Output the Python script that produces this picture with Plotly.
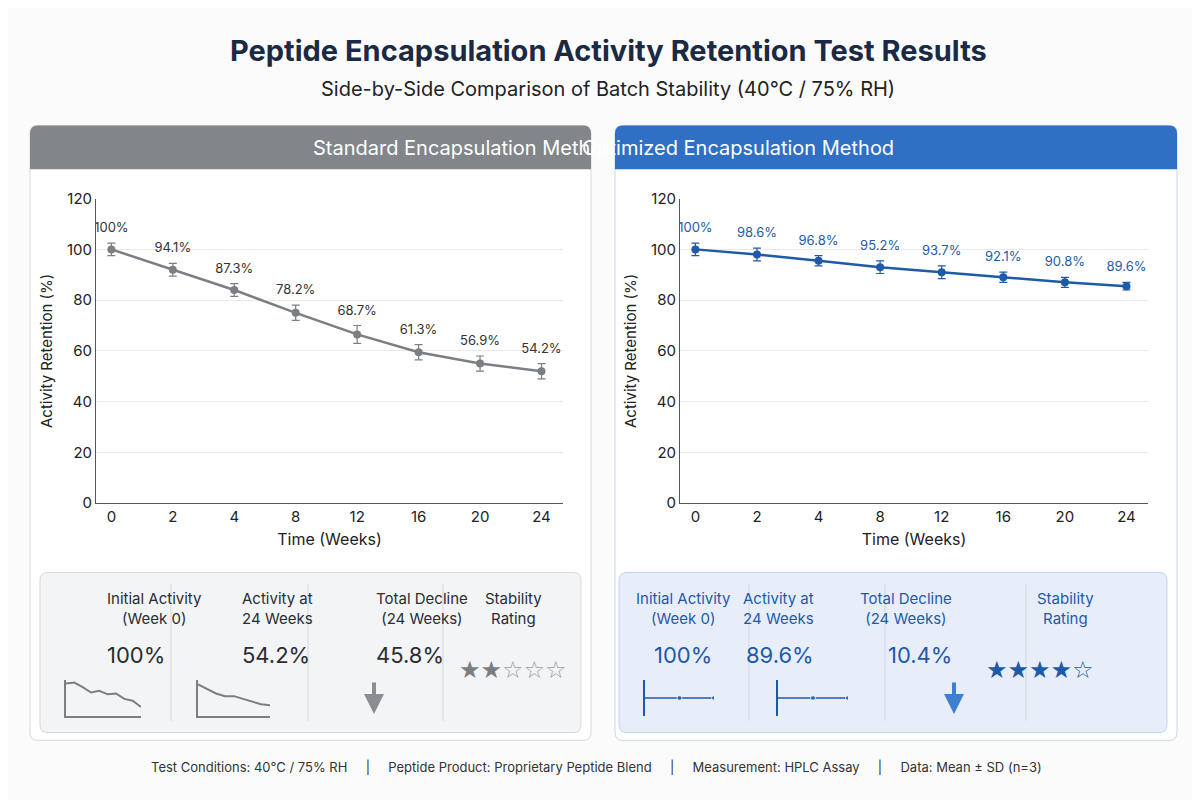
import plotly.graph_objects as go

weeks = ["0", "2", "4", "8", "12", "16", "20", "24"]
std_vals = [100, 92, 84, 75, 66.5, 59.5, 55, 52]
std_err = [2.5, 2.5, 2.5, 3, 3.5, 3, 3, 3]
std_labels = ["100%", "94.1%", "87.3%", "78.2%", "68.7%", "61.3%", "56.9%", "54.2%"]
opt_vals = [100, 98, 95.5, 93, 91, 89, 87, 85.5]
opt_err = [2.5, 2.5, 2, 2.5, 2.5, 2, 2, 1.5]
opt_labels = ["100%", "98.6%", "96.8%", "95.2%", "93.7%", "92.1%", "90.8%", "89.6%"]
spark_std1 = [96, 97, 92, 86, 88, 84, 85, 79, 77, 70]
spark_std2 = [95, 90, 85, 82, 82, 79, 76, 73, 72]
spark_opt = [50, 50, 50, 50, 50]
stat_titles = ["Initial Activity<br>(Week 0)", "Activity at<br>24 Weeks", "Total Decline<br>(24 Weeks)", "Stability<br>Rating"]
std_stats = ["100%", "54.2%", "45.8%"]
opt_stats = ["100%", "89.6%", "10.4%"]
std_stars = 2
opt_stars = 4

GRAY = "#7b7e83"
BLUE = "#1f5aa8"
W, H = 1200, 800
def px(x): return x / W
def py(y): return 1 - y / H

fig = go.Figure()

def rrect(x0, y0, x1, y1, r, top_only=False):
    X0, X1 = px(x0), px(x1)
    Y0, Y1 = py(y0), py(y1)
    rx, ry = r / W, r / H
    if top_only:
        return (f"M {X0} {Y1} L {X0} {Y0-ry} Q {X0} {Y0} {X0+rx} {Y0} L {X1-rx} {Y0} "
                f"Q {X1} {Y0} {X1} {Y0-ry} L {X1} {Y1} Z")
    return (f"M {X0+rx} {Y0} L {X1-rx} {Y0} Q {X1} {Y0} {X1} {Y0-ry} L {X1} {Y1+ry} "
            f"Q {X1} {Y1} {X1-rx} {Y1} L {X0+rx} {Y1} Q {X0} {Y1} {X0} {Y1+ry} "
            f"L {X0} {Y0-ry} Q {X0} {Y0} {X0+rx} {Y0} Z")

shapes = []
anns = []
panels = [
    dict(x0=22, x1=583, hdr="#828589", title="Standard Encapsulation Method", color=GRAY,
         cardbg="white", cardline="#d8d9db", boxbg="#f3f4f5", boxline="#d6d7d9",
         vals=std_vals, err=std_err, labels=std_labels, xa="x", ya="y", dom=(px(88), px(555)),
         stats=std_stats, stars=std_stars, centers=[97, 232, 366, 505], divs=[163, 300, 435],
         txtcolor="#2a2d33", box=(32, 573)),
    dict(x0=607, x1=1169, hdr="#2f6fc4", title="Optimized Encapsulation Method", color=BLUE,
         cardbg="white", cardline="#c9d7ec", boxbg="#e7eefa", boxline="#c3d3ec",
         vals=opt_vals, err=opt_err, labels=opt_labels, xa="x2", ya="y2", dom=(px(672), px(1140)),
         stats=opt_stats, stars=opt_stars, centers=[675, 808, 946, 1088], divs=[741, 877, 1018],
         txtcolor=BLUE, box=(611, 1159)),
]

for i, p in enumerate(panels):
    shapes.append(dict(type="path", path=rrect(p["x0"], 110, p["x1"], 740, 8), xref="paper", yref="paper",
                       fillcolor=p["cardbg"], line=dict(color=p["cardline"], width=1), layer="below"))
    shapes.append(dict(type="path", path=rrect(p["x0"], 110, p["x1"], 155, 8, top_only=True), xref="paper",
                       yref="paper", fillcolor=p["hdr"], line=dict(width=0), layer="below"))
    anns.append(dict(x=px((p["x0"] + p["x1"]) / 2), y=py(133), xref="paper", yref="paper", text=p["title"],
                     showarrow=False, font=dict(size=20, color="white", family="Inter"), yanchor="middle"))
    bx0, bx1 = p["box"]
    shapes.append(dict(type="path", path=rrect(bx0, 568, bx1, 732, 8), xref="paper", yref="paper",
                       fillcolor=p["boxbg"], line=dict(color=p["boxline"], width=1), layer="below"))
    for d in p["divs"]:
        shapes.append(dict(type="line", x0=px(d), x1=px(d), y0=py(580), y1=py(720), xref="paper", yref="paper",
                           line=dict(color="#d5d7da", width=1)))
    for j, c in enumerate(p["centers"]):
        anns.append(dict(x=px(c), y=py(605), xref="paper", yref="paper", text=stat_titles[j], showarrow=False,
                         font=dict(size=15, color=p["txtcolor"], family="Inter"), yanchor="middle"))
        if j < 3:
            anns.append(dict(x=px(c), y=py(653), xref="paper", yref="paper", text=p["stats"][j], showarrow=False,
                             font=dict(size=22, color=p["txtcolor"], family="Inter"), yanchor="middle"))
    c = p["centers"][3]
    filled = "★" * p["stars"]
    empty = "☆" * (5 - p["stars"])
    anns.append(dict(x=px(c), y=py(668), xref="paper", yref="paper",
                     text=f"<span style='color:{p['color']}'>{filled}</span><span style='color:{p['color'] if i else '#9a9da2'}'>{empty}</span>",
                     showarrow=False, font=dict(size=24, family="DejaVu Sans"), yanchor="middle"))
    c = p["centers"][2]
    anns.append(dict(x=px(c), y=py(713), ax=0, ay=-33, xref="paper", yref="paper", axref="pixel",
                     ayref="pixel", text="", showarrow=True, arrowhead=2, arrowsize=1, arrowwidth=4,
                     arrowcolor="#8a8d91" if i == 0 else "#3f7fd0"))

    fig.add_trace(go.Scatter(x=weeks, y=p["vals"], mode="lines+markers", xaxis=p["xa"], yaxis=p["ya"],
                             line=dict(color=p["color"], width=2.5), marker=dict(size=8, color=p["color"]),
                             error_y=dict(type="data", array=p["err"], color=p["color"], thickness=1.2, width=4),
                             showlegend=False, hoverinfo="skip"))
    fig.add_trace(go.Scatter(x=weeks, y=[v + e + 3 for v, e in zip(p["vals"], p["err"])], mode="text",
                             text=p["labels"], textposition="top center", xaxis=p["xa"], yaxis=p["ya"],
                             textfont=dict(size=13, color="#333" if i == 0 else BLUE, family="Inter"),
                             showlegend=False, hoverinfo="skip"))

ax = dict(showline=True, linecolor="#555", ticks="", tickfont=dict(size=15, color="#222", family="Inter"),
          title=dict(text="Time (Weeks)", font=dict(size=16, color="#222", family="Inter"), standoff=8),
          showgrid=False, type="category", range=[-0.25, 7.35], fixedrange=True)
ay = dict(range=[0, 120], dtick=20, showgrid=True, gridcolor="#e8e9eb", showline=True, linecolor="#555",
          tickfont=dict(size=15, color="#222", family="Inter"), zeroline=False,
          title=dict(text="Activity Retention (%)", font=dict(size=15, color="#222", family="Inter"), standoff=10))
ydom = [py(497), py(185)]
layout_axes = {
    "xaxis": dict(ax, domain=panels[0]["dom"], anchor="y"),
    "yaxis": dict(ay, domain=ydom, anchor="x"),
    "xaxis2": dict(ax, domain=panels[1]["dom"], anchor="y2"),
    "yaxis2": dict(ay, domain=ydom, anchor="x2"),
}

sparks = [
    (spark_std1, 58, 133, GRAY, True), (spark_std2, 190, 262, GRAY, True),
    (spark_opt, 637, 706, BLUE, False), (spark_opt, 770, 840, BLUE, False),
]
for k, (data, sx0, sx1, col, leftbar) in enumerate(sparks):
    n = 3 + k
    tr = dict(x=list(range(len(data))), y=data, mode="lines" if leftbar else "lines+markers",
              line=dict(color=col, width=2 if leftbar else 1.5),
              xaxis=f"x{n}", yaxis=f"y{n}", showlegend=False, hoverinfo="skip")
    if not leftbar:
        tr["marker"] = dict(size=[0, 0, 5, 0, 5], color=col)
    fig.add_trace(go.Scatter(**tr))
    layout_axes[f"xaxis{n}"] = dict(domain=[px(sx0), px(sx1)], anchor=f"y{n}", showgrid=False, zeroline=False,
                                    showticklabels=False, showline=leftbar, linecolor=col, linewidth=1.5,
                                    range=[0, len(data) - 1], fixedrange=True)
    layout_axes[f"yaxis{n}"] = dict(domain=[py(715), py(678)], anchor=f"x{n}", showgrid=False, zeroline=False,
                                    showticklabels=False, showline=True, linecolor=col, linewidth=1.5,
                                    range=[60, 100] if leftbar else [0, 100], fixedrange=True)

anns += [
    dict(x=0.5, y=py(33), xref="paper", yref="paper", text="<b>Peptide Encapsulation Activity Retention Test Results</b>",
         showarrow=False, font=dict(size=29, color="#1b2a44", family="Inter"), yanchor="middle"),
    dict(x=0.5, y=py(73), xref="paper", yref="paper", text="Side-by-Side Comparison of Batch Stability (40°C / 75% RH)",
         showarrow=False, font=dict(size=20, color="#222", family="Inter"), yanchor="middle"),
    dict(x=0.49, y=py(767), xref="paper", yref="paper",
         text="Test Conditions: 40°C / 75% RH     |     Peptide Product: Proprietary Peptide Blend     |     Measurement: HPLC Assay     |     Data: Mean ± SD (n=3)",
         showarrow=False, font=dict(size=13, color="#333", family="Inter"), yanchor="middle"),
]

fig.update_layout(width=W, height=H, margin=dict(l=0, r=0, t=0, b=0), paper_bgcolor="#fbfbfc",
                  plot_bgcolor="rgba(0,0,0,0)", shapes=shapes, annotations=anns, **layout_axes)
fig.write_html("out.html")
